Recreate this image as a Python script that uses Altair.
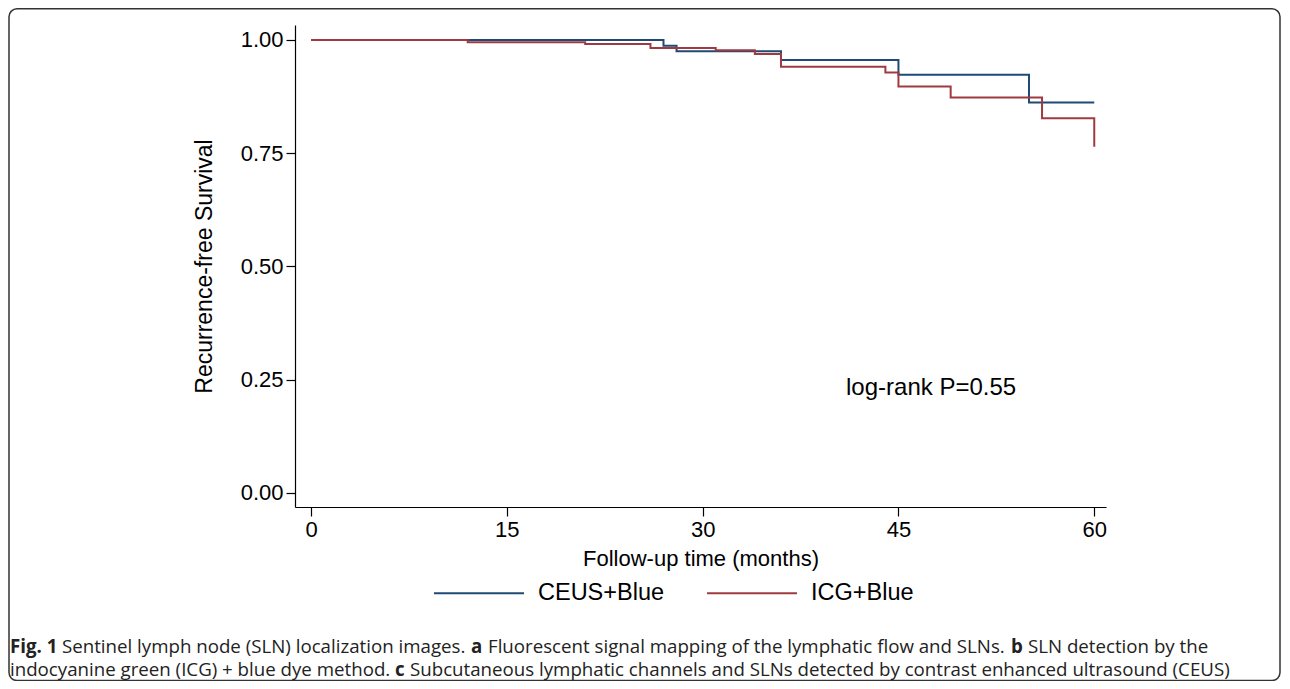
import altair as alt
import pandas as pd

# ---- data ----
ceus_time = [0, 27, 28, 36, 45, 55, 60]
ceus_surv = [1.000, 0.987, 0.975, 0.956, 0.923, 0.862, 0.862]

icg_time = [0, 12, 21, 26, 31, 34, 36, 44, 45, 49, 56, 60, 60]
icg_surv = [1.000, 0.995, 0.991, 0.982, 0.977, 0.969, 0.941, 0.928, 0.897, 0.873, 0.827, 0.827, 0.764]

groups = ["CEUS+Blue", "ICG+Blue"]
colors = ["#1f4a75", "#a03a41"]

x_ticks = [0, 15, 30, 45, 60]
y_ticks = [0.0, 0.25, 0.5, 0.75, 1.0]

annot_text = ["log-rank P=0.55"]
annot_x = [47.5]
annot_y = [0.232]

caption_line1 = [("Fig. 1", "bold"), ("Sentinel lymph node (SLN) localization images.", "normal"),
                 ("a", "bold"), ("Fluorescent signal mapping of the lymphatic flow and SLNs.", "normal"),
                 ("b", "bold"), ("SLN detection by the", "normal")]
caption_line2 = [("indocyanine green (ICG) + blue dye method.", "normal"), ("c", "bold"),
                 ("Subcutaneous lymphatic channels and SLNs detected by contrast enhanced ultrasound (CEUS)", "normal")]

# ---- layout (pixels, relative to plot origin) ----
W, H = 811, 482
cap1_x = [-285, -233, 176, 193, 716, 733]
cap2_x = [-285, 100, 115]
cap1_y, cap2_y = 622, 645
CAP_SIZE = 18.7

df = pd.concat([
    pd.DataFrame({"time": ceus_time, "surv": ceus_surv, "group": groups[0], "ord": range(len(ceus_time))}),
    pd.DataFrame({"time": icg_time, "surv": icg_surv, "group": groups[1], "ord": range(len(icg_time))}),
])

FONT = "Liberation Sans"

xscale = alt.Scale(domain=[-1.23, 60.9], nice=False, zero=False)
yscale = alt.Scale(domain=[-0.031, 1.033], nice=False, zero=False)

lines = alt.Chart(df).mark_line(interpolate="step-after", strokeWidth=2).encode(
    x=alt.X("time:Q", scale=xscale,
            axis=alt.Axis(values=x_ticks, title="Follow-up time (months)", grid=False,
                          tickSize=9, labelPadding=3, titlePadding=8, format="d",
                          labelFontSize=22, titleFontSize=22)),
    y=alt.Y("surv:Q", scale=yscale,
            axis=alt.Axis(values=y_ticks, title="Recurrence-free Survival", grid=False, format=".2f",
                          tickSize=9, labelPadding=3, titlePadding=24,
                          labelFontSize=22, titleFontSize=23)),
    color=alt.Color("group:N", scale=alt.Scale(domain=groups, range=colors), title=None,
                    legend=alt.Legend(orient="none", legendX=138, legendY=522, direction="horizontal",
                                      symbolType="stroke", symbolSize=8100, symbolStrokeWidth=2,
                                      labelFontSize=23.5, labelFont=FONT, labelOffset=13,
                                      columnPadding=38, labelColor="black")),
    order="ord:Q",
)

annot = alt.Chart(pd.DataFrame({"t": annot_text, "x": annot_x, "y": annot_y})).mark_text(
    fontSize=24, font=FONT, color="black", align="center", baseline="middle"
).encode(x=alt.X("x:Q", scale=xscale), y=alt.Y("y:Q", scale=yscale), text="t:N")

one = pd.DataFrame({"k": [0]})
border = alt.Chart(one).mark_rect(fillOpacity=0, stroke="#333333", strokeWidth=1.5, cornerRadius=8).encode(
    x=alt.value(-286), x2=alt.value(985), y=alt.value(-16.2), y2=alt.value(655.5)
)

cap_layers = []
for (txt, wt), xp in zip(caption_line1, cap1_x):
    cap_layers.append(alt.Chart(one).mark_text(text=txt, fontWeight=wt, font="Open Sans", fontSize=CAP_SIZE,
                                               align="left", baseline="middle", color="#222222").encode(
        x=alt.value(xp), y=alt.value(cap1_y)))
for (txt, wt), xp in zip(caption_line2, cap2_x):
    cap_layers.append(alt.Chart(one).mark_text(text=txt, fontWeight=wt, font="Open Sans", fontSize=CAP_SIZE,
                                               align="left", baseline="middle", color="#222222").encode(
        x=alt.value(xp), y=alt.value(cap2_y)))

chart = alt.layer(border, lines, annot, *cap_layers).properties(
    width=W, height=H,
    autosize=alt.AutoSizeParams(type="none"),
    padding={"left": 287, "top": 17, "right": 176, "bottom": 174},
).configure_view(stroke=None).configure_axis(
    domainColor="black", domainWidth=1.2, tickColor="black", tickWidth=1.2,
    labelFont=FONT, labelColor="black",
    titleFont=FONT, titleFontWeight="normal", titleColor="black",
)

chart.save("out.html", embed_options={"renderer": "svg", "actions": False})
